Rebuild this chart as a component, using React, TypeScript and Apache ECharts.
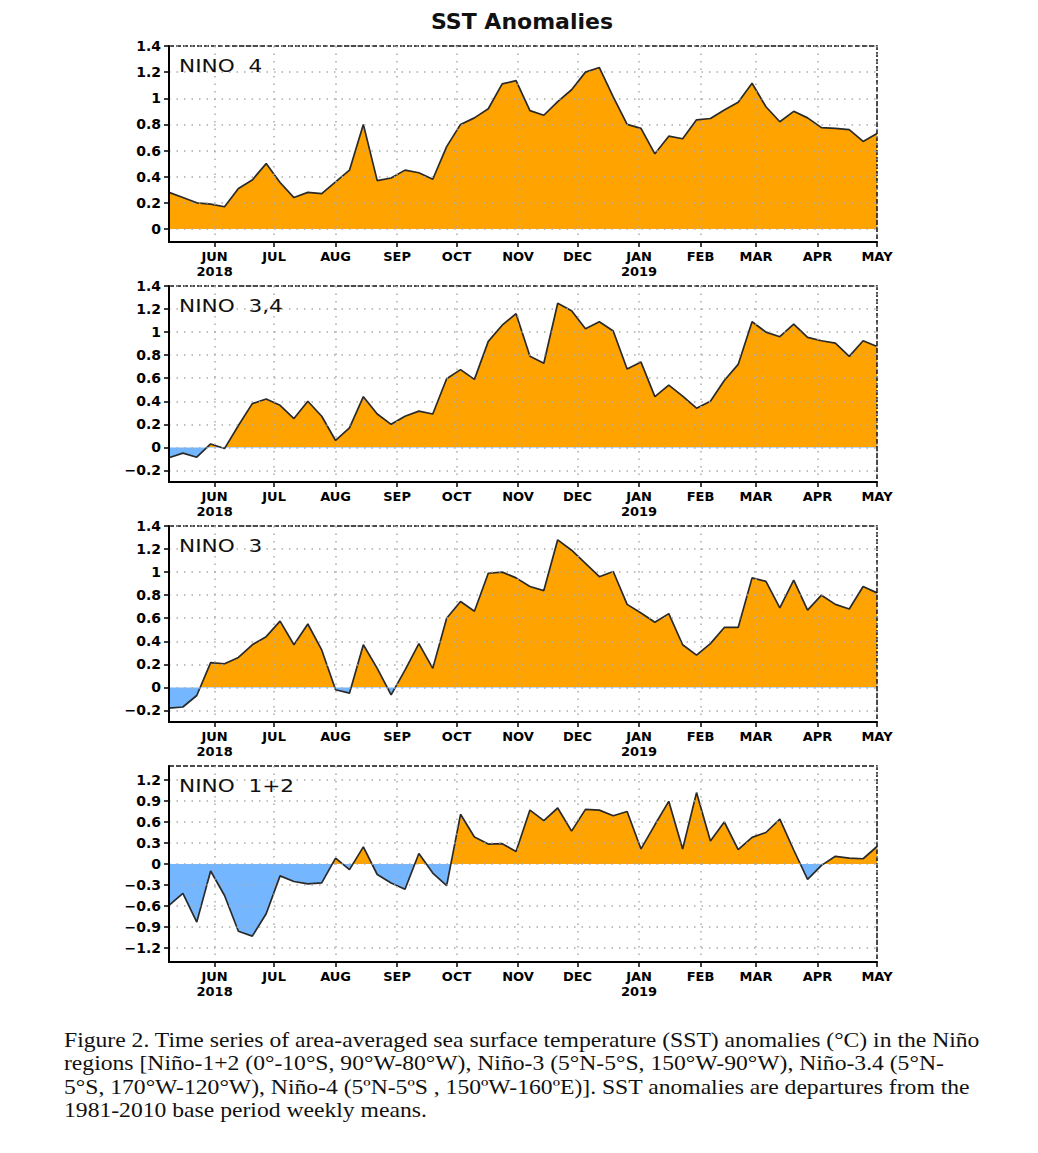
import React, { useEffect, useRef } from "react";
import * as echarts from "echarts";

// Week-centred dates (Wednesdays)
const weeks: string[] = [
  "2018-05-09", "2018-05-16", "2018-05-23", "2018-05-30",
  "2018-06-06", "2018-06-13", "2018-06-20", "2018-06-27",
  "2018-07-04", "2018-07-11", "2018-07-18", "2018-07-25",
  "2018-08-01", "2018-08-08", "2018-08-15", "2018-08-22", "2018-08-29",
  "2018-09-05", "2018-09-12", "2018-09-19", "2018-09-26",
  "2018-10-03", "2018-10-10", "2018-10-17", "2018-10-24", "2018-10-31",
  "2018-11-07", "2018-11-14", "2018-11-21", "2018-11-28",
  "2018-12-05", "2018-12-12", "2018-12-19", "2018-12-26",
  "2019-01-02", "2019-01-09", "2019-01-16", "2019-01-23", "2019-01-30",
  "2019-02-06", "2019-02-13", "2019-02-20", "2019-02-27",
  "2019-03-06", "2019-03-13", "2019-03-20", "2019-03-27",
  "2019-04-03", "2019-04-10", "2019-04-17", "2019-04-24",
  "2019-05-01",
];

const monthTicks: string[] = [
  "2018-06-01", "2018-07-01", "2018-08-01", "2018-09-01", "2018-10-01",
  "2018-11-01", "2018-12-01", "2019-01-01", "2019-02-01", "2019-03-01",
  "2019-04-01", "2019-05-01",
];
const monthLabels: string[] = [
  "JUN\n2018", "JUL", "AUG", "SEP", "OCT", "NOV", "DEC", "JAN\n2019", "FEB", "MAR", "APR", "MAY",
];

const nino4: number[] = [
  0.28, 0.24, 0.2, 0.19, 0.17, 0.31, 0.375, 0.5, 0.355, 0.24,
  0.28, 0.27, 0.36, 0.45, 0.8, 0.37, 0.39, 0.45, 0.43, 0.38,
  0.63, 0.8, 0.85, 0.92, 1.11, 1.135, 0.905, 0.87, 0.975, 1.065,
  1.2, 1.235, 1.01, 0.8, 0.77, 0.575, 0.71, 0.69, 0.835, 0.845,
  0.91, 0.97, 1.115, 0.935, 0.82, 0.9, 0.85, 0.775, 0.77, 0.76,
  0.67, 0.73,
];
const nino34: number[] = [
  -0.09, -0.05, -0.085, 0.03, -0.01, 0.19, 0.38, 0.42, 0.365, 0.25,
  0.4, 0.27, 0.06, 0.17, 0.44, 0.29, 0.2, 0.27, 0.315, 0.29,
  0.595, 0.675, 0.59, 0.92, 1.06, 1.16, 0.79, 0.73, 1.25, 1.185,
  1.03, 1.09, 1.01, 0.68, 0.74, 0.44, 0.54, 0.445, 0.34, 0.4,
  0.58, 0.72, 1.09, 1.0, 0.96, 1.07, 0.955, 0.925, 0.905, 0.79,
  0.925, 0.875,
];
const nino3: number[] = [
  -0.18, -0.17, -0.07, 0.215, 0.205, 0.26, 0.37, 0.44, 0.575, 0.37,
  0.55, 0.325, -0.02, -0.05, 0.37, 0.165, -0.065, 0.15, 0.38, 0.165,
  0.6, 0.745, 0.66, 0.99, 1.0, 0.95, 0.875, 0.84, 1.28, 1.19,
  1.075, 0.96, 1.005, 0.72, 0.645, 0.565, 0.64, 0.37, 0.28, 0.38,
  0.52, 0.52, 0.95, 0.92, 0.69, 0.93, 0.67, 0.8, 0.72, 0.68,
  0.875, 0.82,
];
const nino12: number[] = [
  -0.59, -0.42, -0.83, -0.1, -0.45, -0.96, -1.03, -0.71, -0.17, -0.25,
  -0.285, -0.27, 0.085, -0.08, 0.245, -0.15, -0.27, -0.36, 0.15, -0.13,
  -0.31, 0.71, 0.385, 0.285, 0.29, 0.18, 0.77, 0.62, 0.8, 0.47,
  0.78, 0.77, 0.69, 0.75, 0.215, 0.56, 0.895, 0.215, 1.02, 0.33,
  0.6, 0.205, 0.38, 0.45, 0.64, 0.2, -0.22, -0.02, 0.11, 0.085,
  0.075, 0.25,
];

const panelLabels = ["NINO  4", "NINO  3,4", "NINO  3", "NINO  1+2"];
const panelSeries = [nino4, nino34, nino3, nino12];
const yMins = [-0.1, -0.3, -0.3, -1.4];
const yMaxs = [1.4, 1.4, 1.4, 1.4];
const yTicks4 = [0, 0.2, 0.4, 0.6, 0.8, 1, 1.2, 1.4];
const yTicks34 = [-0.2, 0, 0.2, 0.4, 0.6, 0.8, 1, 1.2, 1.4];
const yTicks12 = [-1.2, -0.9, -0.6, -0.3, 0, 0.3, 0.6, 0.9, 1.2];
const yTickSets = [yTicks4, yTicks34, yTicks34, yTicks12];

const captionLines = [
  "Figure 2. Time series of area-averaged sea surface temperature (SST) anomalies (°C) in the Niño",
  "regions [Niño-1+2 (0°-10°S, 90°W-80°W), Niño-3 (5°N-5°S, 150°W-90°W), Niño-3.4 (5°N-",
  "5°S, 170°W-120°W), Niño-4 (5ºN-5ºS , 150ºW-160ºE)]. SST anomalies are departures from the",
  "1981-2010 base period weekly means.",
];

const ORANGE = "#FFA300";
const BLUE = "#74B6FF";

// day number (UTC days since epoch)
function dayNum(s: string): number {
  const [y, m, d] = s.split("-").map(Number);
  return Math.round(Date.UTC(y, m - 1, d) / 86400000);
}

// vertical fill gradient with a hard switch at zero, in the area's own box
function zeroSplitFill(vals: number[]) {
  const hi = Math.max(0, ...vals);
  const lo = Math.min(0, ...vals);
  const o = hi - lo > 0 ? hi / (hi - lo) : 1;
  return new echarts.graphic.LinearGradient(0, 0, 0, 1, [
    { offset: 0, color: ORANGE },
    { offset: o, color: ORANGE },
    { offset: o, color: BLUE },
    { offset: 1, color: BLUE },
  ]);
}

const PANEL_TOPS = [46, 286, 526, 766];
const PANEL_H = 196;
const LEFT = 169;
const RIGHT = 161;

export default function App() {
  const ref = useRef<HTMLDivElement>(null);
  const [err, setErr] = React.useState("");

  useEffect(() => {
    if (!ref.current) return;
    const chart = echarts.init(ref.current, null, { renderer: "svg" });
    const tickVals = monthTicks.map(dayNum);
    const labelOf: Record<number, string> = {};
    tickVals.forEach((v, i) => (labelOf[v] = monthLabels[i]));
    const grids: any[] = [];
    const xAxes: any[] = [];
    const yAxes: any[] = [];
    const series: any[] = [];
    const graphics: any[] = [];
    const dotted = () => ({ color: "#aaaaaa", width: 1.5, type: [1.5, 6] });

    for (let k = 0; k < 4; k++) {
      grids.push({
        left: LEFT,
        right: RIGHT,
        top: PANEL_TOPS[k],
        height: PANEL_H,
        show: true,
        z: 3,
        backgroundColor: "transparent",
        borderColor: "#111",
        borderWidth: 1.5,
        borderType: [5, 2],
      });
      xAxes.push({
        type: "value",
        gridIndex: k,
        min: dayNum(weeks[0]),
        max: dayNum(weeks[weeks.length - 1]),
        z: 3,
        axisLine: { show: true, onZero: false, lineStyle: { color: "#000", width: 2 } },
        axisTick: { show: true, length: 5, customValues: tickVals.slice(), lineStyle: { color: "#000", width: 1.5 } },
        axisLabel: {
          customValues: tickVals.slice(),
          margin: 7,
          color: "#000",
          fontFamily: "DejaVu Sans",
          fontWeight: "bold",
          fontSize: 13,
          lineHeight: 15,
          formatter: (v: number) => labelOf[Math.round(v)] ?? "",
        },
        splitLine: { show: true, lineStyle: dotted() },
      });
      yAxes.push({
        type: "value",
        gridIndex: k,
        min: yMins[k],
        max: yMaxs[k],
        z: 3,
        axisLine: { show: true, onZero: false, lineStyle: { color: "#000", width: 2 } },
        axisTick: { show: true, length: 5, customValues: yTickSets[k].slice(), lineStyle: { color: "#000", width: 1.5 } },
        axisLabel: {
          customValues: yTickSets[k].slice(),
          margin: 8,
          color: "#000",
          fontFamily: "DejaVu Sans",
          fontWeight: "bold",
          fontSize: 14,
          formatter: (v: number) => String(+(+v).toFixed(2)).replace("-", "\u2212"),
        },
        splitLine: { show: true, lineStyle: dotted() },
      });
      series.push({
        type: "line",
        xAxisIndex: k,
        yAxisIndex: k,
        data: weeks.map((w, i) => [dayNum(w), panelSeries[k][i]]),
        symbol: "none",
        lineStyle: { color: "#2a2a2a", width: 1.7 },
        areaStyle: { opacity: 1, color: zeroSplitFill(panelSeries[k]) },
        z: 2,
      });
      graphics.push({
        type: "text",
        x: 179,
        y: PANEL_TOPS[k] + 20,
        scaleX: 1.2,
        z: 10,
        style: {
          text: panelLabels[k],
          font: "normal 18px 'DejaVu Sans'",
          fill: "#111",
          textAlign: "left",
          textVerticalAlign: "middle",
        },
      });
    }

    graphics.push({
      type: "text",
      x: 522,
      y: 21,
      z: 10,
      style: {
        text: "SST Anomalies",
        font: "bold 22px 'DejaVu Sans'",
        fill: "#111",
        textAlign: "center",
        textVerticalAlign: "middle",
      },
    });

    try {
      chart.setOption({
        animation: false,
        backgroundColor: "#fff",
        grid: grids,
        xAxis: xAxes,
        yAxis: yAxes,
        series,
        graphic: graphics,
      });
    } catch (e: any) {
      setErr(String(e && e.stack ? e.stack : e));
    }
    return () => chart.dispose();
  }, []);

  return (
    <div style={{ position: "absolute", left: 0, top: 0, width: 1038, height: 1153, background: "#fff" }}>
      <div ref={ref} style={{ position: "absolute", left: 0, top: 0, width: 1038, height: 1010 }} />
      {err ? (
        <pre style={{ position: "absolute", left: 10, top: 300, fontSize: 11, color: "red", whiteSpace: "pre-wrap", width: 1000 }}>{err}</pre>
      ) : null}
      <div
        style={{
          position: "absolute",
          left: 64,
          top: 1029,
          fontFamily: "'Liberation Serif', 'Times New Roman', serif",
          fontSize: 21,
          lineHeight: "23.3px",
          color: "#111",
          whiteSpace: "pre",
          transform: "scaleX(1.125)",
          transformOrigin: "0 0",
        }}
      >
        {captionLines.map((l, i) => (
          <div key={i}>{l}</div>
        ))}
      </div>
    </div>
  );
}
